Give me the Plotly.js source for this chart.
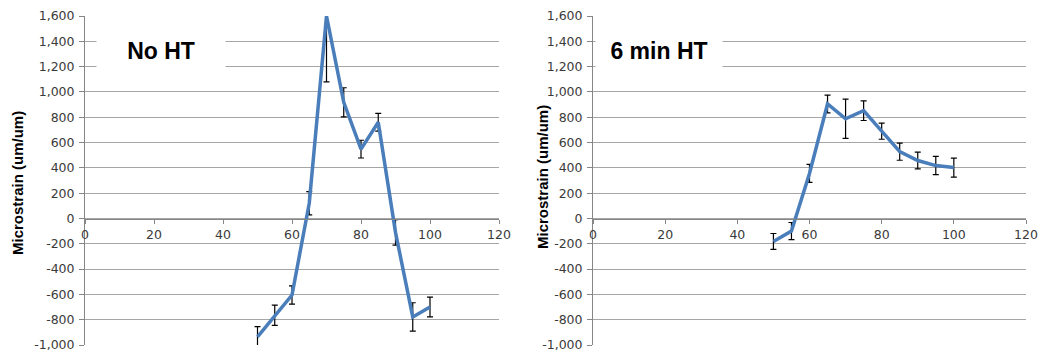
<!DOCTYPE html>
<html><head><meta charset="utf-8">
<script src="https://cdn.plot.ly/plotly-3.0.1.min.js"></script>
<style>html,body{margin:0;padding:0;background:#fff}#chart{width:1040px;height:354px}</style>
</head><body><div id="chart"></div>
<script>
// Data
const positions = [50, 55, 60, 65, 70, 75, 80, 85, 90, 95, 100];
const noHT      = [-935, -765, -605, 120, 1600, 918, 548, 760, -110, -778, -700];
const noHTErr   = [80, 80, 72, 92, 520, 115, 70, 70, 100, 112, 78];
const ht6       = [-182, -100, 356, 905, 788, 852, 690, 528, 458, 418, 402];
const ht6Err    = [63, 68, 71, 70, 155, 78, 64, 68, 66, 72, 75];
const panelTitles = ['No HT', '6 min HT'];
const yTitle = 'Microstrain (um/um)';
const yTickVals = [-1000,-800,-600,-400,-200,0,200,400,600,800,1000,1200,1400,1600];
const yTickText = ['-1,000','-800','-600','-400','-200','0','200','400','600','800','1,000','1,200','1,400','1,600'];
const xTickVals = [0,20,40,60,80,100,120];
const xTickText = ['0','20','40','60','80','100','120'];

const lineColor = '#4A7EBB';
const gridColor = '#A6A6A6';
const axisColor = '#868686';
const tickFont = {family: 'DejaVu Sans', size: 12.5, color: '#3a3a3a'};
const yTitleFont = {family: 'Liberation Sans', size: 15, color: '#000'};

function trace(y, err, xa, ya) {
  return {
    x: positions, y: y, xaxis: xa, yaxis: ya, type: 'scatter', mode: 'lines',
    line: {color: lineColor, width: 3.5},
    error_y: {type: 'data', array: err, visible: true, color: '#000', thickness: 1.2, width: 3},
    showlegend: false, hoverinfo: 'skip'
  };
}

const yDom = [1 - 345/354, 1 - 16/354];
const zeroPos = 1 - 218.6/354;

function xAxis(dom) {
  return {
    domain: dom, range: [0, 120], anchor: 'free', position: zeroPos,
    tickvals: xTickVals, ticktext: xTickText, ticks: 'outside', ticklen: 4, tickcolor: axisColor,
    showline: true, linecolor: axisColor, linewidth: 1, showgrid: false, zeroline: false,
    tickfont: tickFont, fixedrange: true
  };
}
function yAxis(anchor) {
  return {
    domain: yDom, range: [-1000, 1600], anchor: anchor,
    tickvals: yTickVals, ticktext: yTickText, ticks: 'outside', ticklen: 5, tickcolor: axisColor,
    showline: true, linecolor: axisColor, linewidth: 1, showgrid: true, gridcolor: gridColor, gridwidth: 1,
    zeroline: false, tickfont: tickFont, ticklabelstandoff: 2,
    fixedrange: true
  };
}

const data = [trace(noHT, noHTErr, 'x', 'y'), trace(ht6, ht6Err, 'x2', 'y2')];

const layout = {
  width: 1040, height: 354,
  margin: {l: 0, r: 0, t: 0, b: 0},
  paper_bgcolor: '#fff', plot_bgcolor: 'rgba(0,0,0,0)',
  xaxis: xAxis([85/1040, 499/1040]),
  yaxis: yAxis('x'),
  xaxis2: xAxis([593/1040, 1026/1040]),
  yaxis2: yAxis('x2'),
  annotations: [
    {text: '<b>' + panelTitles[0] + '</b>', xref: 'paper', yref: 'paper', x: 161/1040, y: 1 - 51/354,
     xanchor: 'center', yanchor: 'middle', showarrow: false, bgcolor: '#fff', width: 126, height: 54,
     font: {family: 'Liberation Sans', size: 23, color: '#000'}},
    {text: '<b>' + panelTitles[1] + '</b>', xref: 'paper', yref: 'paper', x: 659/1040, y: 1 - 51/354,
     xanchor: 'center', yanchor: 'middle', showarrow: false, bgcolor: '#fff', width: 124, height: 54,
     font: {family: 'Liberation Sans', size: 23, color: '#000'}},
    {text: '<b>' + yTitle + '</b>', xref: 'paper', yref: 'paper', x: 18/1040, y: 1 - 183/354,
     xanchor: 'center', yanchor: 'middle', showarrow: false, textangle: -90, font: yTitleFont},
    {text: '<b>' + yTitle + '</b>', xref: 'paper', yref: 'paper', x: 542/1040, y: 1 - 177/354,
     xanchor: 'center', yanchor: 'middle', showarrow: false, textangle: -90, font: yTitleFont}
  ]
};

Plotly.newPlot('chart', data, layout, {staticPlot: true, displayModeBar: false});
</script></body></html>
